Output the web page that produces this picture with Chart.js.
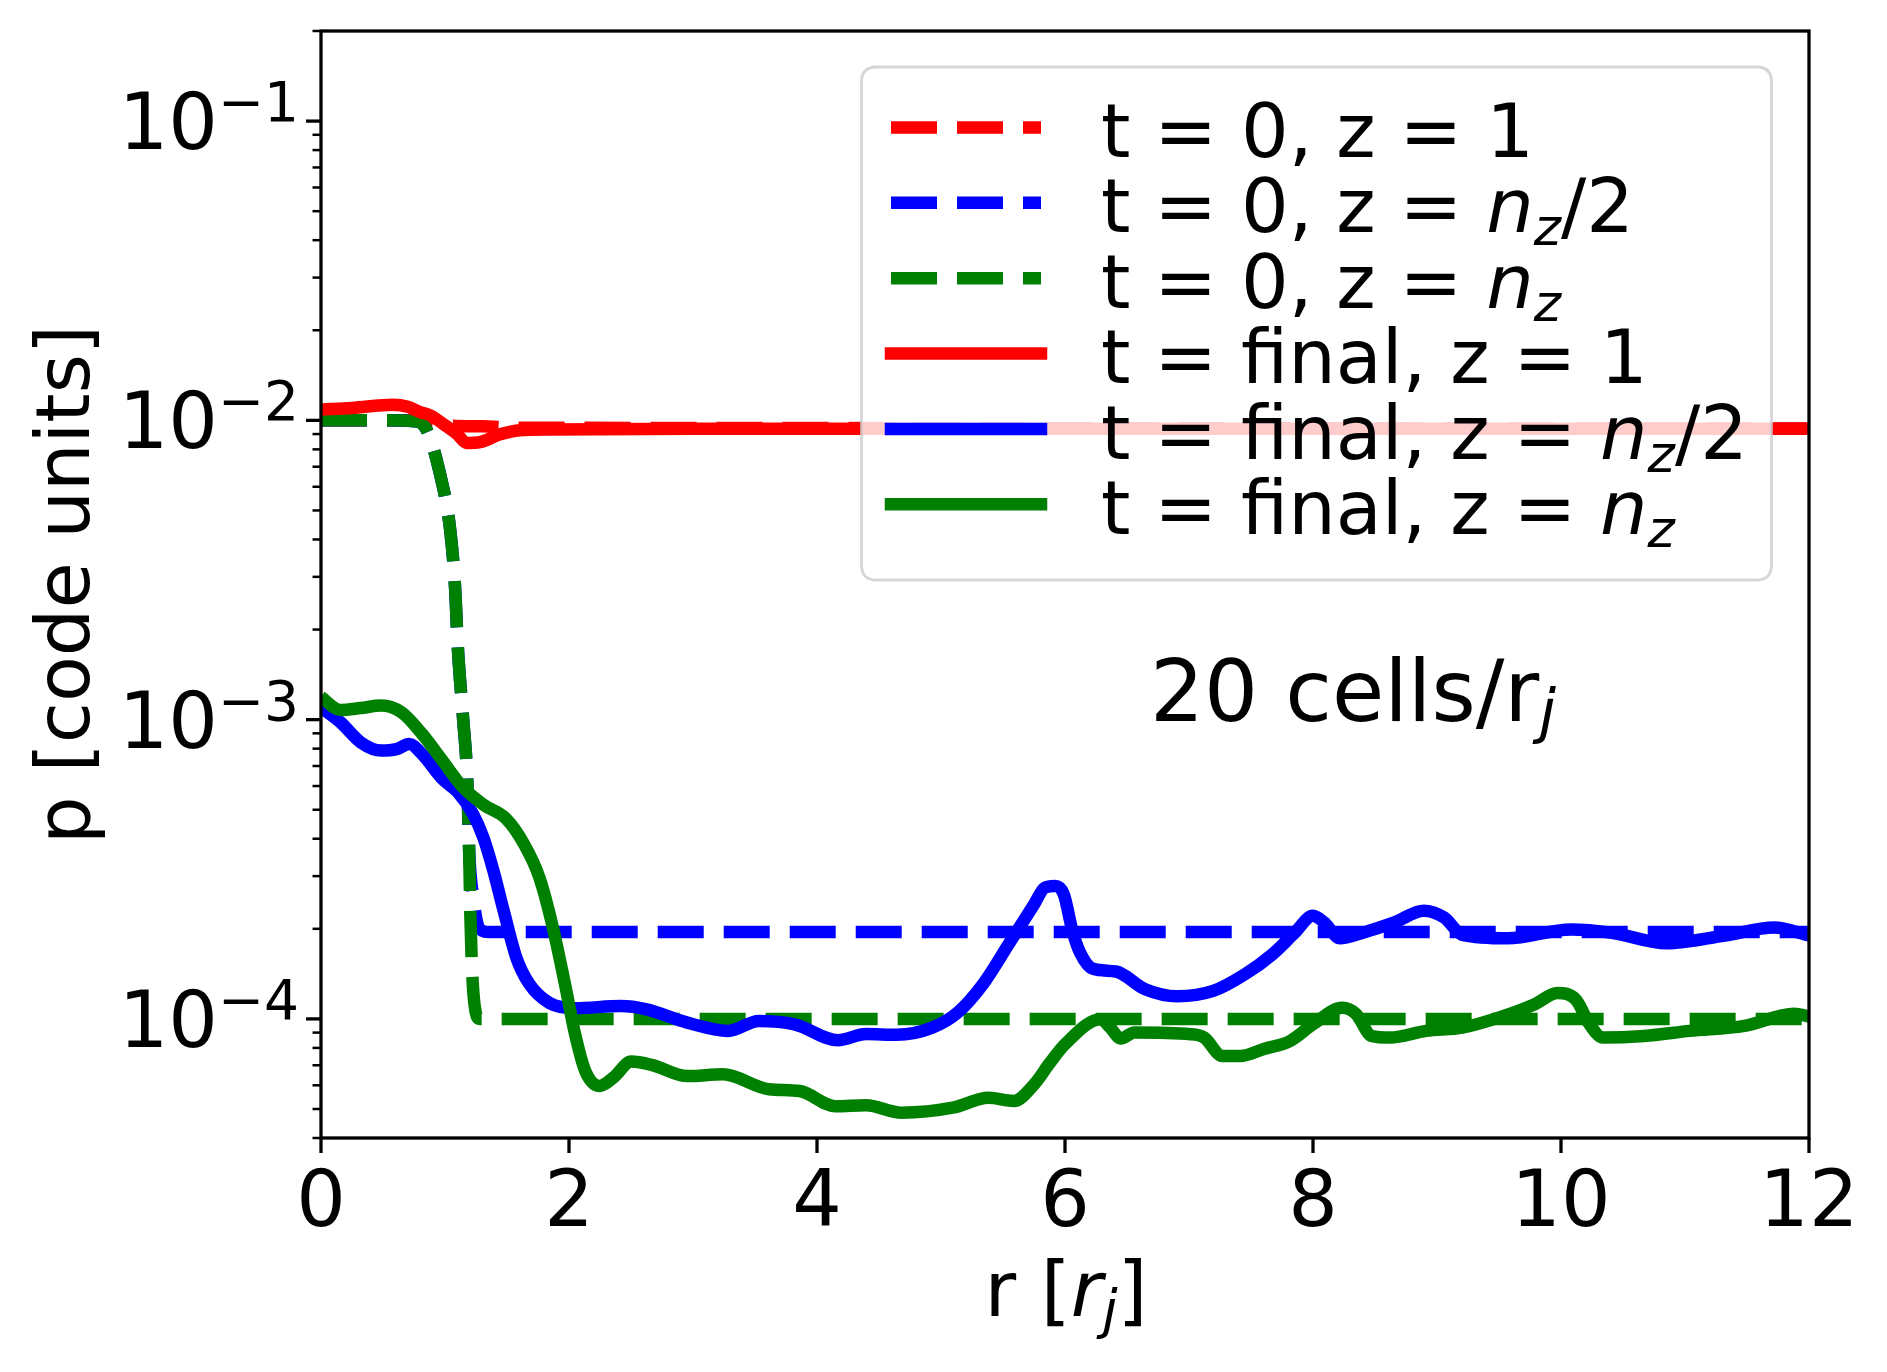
<!DOCTYPE html>
<html><head><meta charset="utf-8">
<script src="https://cdn.jsdelivr.net/npm/chart.js@4.4.1/dist/chart.umd.min.js"></script>
<style>html,body{margin:0;padding:0;background:#fff;overflow:hidden}#wrap{width:1887px;height:1372px}</style>
</head><body><div id="wrap"><canvas id="c" width="1887" height="1372"></canvas></div>
<script>
// ---------- data ----------
const xTickValues = [0, 2, 4, 6, 8, 10, 12];
const xTickLabels = ['0', '2', '4', '6', '8', '10', '12'];
const yMajorValues = [1e-4, 1e-3, 1e-2, 1e-1];
const yMajorExponents = ['\u22124', '\u22123', '\u22122', '\u22121'];
const yMinorValues = [4e-5,5e-5,6e-5,7e-5,8e-5,9e-5,2e-4,3e-4,4e-4,5e-4,6e-4,7e-4,8e-4,9e-4,
  2e-3,3e-3,4e-3,5e-3,6e-3,7e-3,8e-3,9e-3,2e-2,3e-2,4e-2,5e-2,6e-2,7e-2,8e-2,9e-2,2e-1];

const seriesLabels = ['t = 0, z = 1', 't = 0, z = n_z/2', 't = 0, z = n_z',
  't = final, z = 1', 't = final, z = n_z/2', 't = final, z = n_z'];

const r_t0_z1 = [0, 0.75, 0.9, 1.05, 1.3, 1.6, 12];
const p_t0_z1 = [1.0e-2, 1.0e-2, 9.85e-3, 9.6e-3, 9.55e-3, 9.45e-3, 9.4e-3];

const r_t0_half = [0, 0.5, 0.75, 0.85, 0.96, 1.04, 1.08, 1.105, 1.145, 1.18, 1.195, 1.23, 1.26, 1.30, 1.35, 12];
const p_t0_half = [1e-2, 1e-2, 9.93e-3, 9.33e-3, 6.61e-3, 4.37e-3, 2.82e-3, 1.70e-3, 1.02e-3, 6.17e-4, 3.63e-4, 2.51e-4, 2.09e-4, 1.97e-4, 1.95e-4, 1.95e-4];

const r_t0_nz = [0, 0.5, 0.75, 0.85, 0.96, 1.04, 1.08, 1.105, 1.145, 1.18, 1.195, 1.205, 1.22, 1.24, 1.28, 1.33, 12];
const p_t0_nz = [1e-2, 1e-2, 9.93e-3, 9.33e-3, 6.61e-3, 4.37e-3, 2.82e-3, 1.70e-3, 1.02e-3, 6.17e-4, 3.63e-4, 2.19e-4, 1.41e-4, 1.10e-4, 1.0e-4, 1.0e-4, 1.0e-4];

const r_fin_z1 = [0, 0.25, 0.58, 0.7, 0.8, 0.879, 1.013, 1.094, 1.175, 1.282, 1.444, 1.605, 1.87, 3, 12];
const p_fin_z1 = [1.086e-2, 1.10e-2, 1.127e-2, 1.11e-2, 1.066e-2, 1.04e-2, 9.55e-3, 9.03e-3, 8.4e-3, 8.46e-3, 8.98e-3, 9.27e-3, 9.33e-3, 9.37e-3, 9.37e-3];

const r_fin_half = [0, 0.157, 0.32, 0.486, 0.609, 0.712, 0.815, 0.979, 1.103, 1.226, 1.309, 1.391, 1.473, 1.576, 1.679, 1.843, 2.048, 2.419, 2.625, 2.954, 3.284, 3.531, 3.819, 4.169, 4.394, 4.641, 4.929, 5.135, 5.341, 5.547, 5.752, 5.835, 5.917, 5.99, 6.06, 6.12, 6.226, 6.41, 6.647, 6.903, 7.195, 7.451, 7.67, 7.853, 7.999, 8.09, 8.218, 8.401, 8.656, 8.894, 9.058, 9.204, 9.569, 10.08, 10.41, 10.85, 11.32, 11.72, 12];
const p_fin_half = [1.10e-3, 9.8e-4, 8.4e-4, 7.88e-4, 7.97e-4, 8.29e-4, 7.67e-4, 6.34e-4, 5.72e-4, 4.84e-4, 4.04e-4, 3.12e-4, 2.30e-4, 1.60e-4, 1.31e-4, 1.13e-4, 1.086e-4, 1.104e-4, 1.076e-4, 9.72e-5, 9.12e-5, 9.84e-5, 9.59e-5, 8.49e-5, 8.9e-5, 8.85e-5, 9.35e-5, 1.05e-4, 1.31e-4, 1.78e-4, 2.42e-4, 2.74e-4, 2.78e-4, 2.61e-4, 1.97e-4, 1.67e-4, 1.47e-4, 1.44e-4, 1.256e-4, 1.19e-4, 1.24e-4, 1.41e-4, 1.64e-4, 1.94e-4, 2.21e-4, 2.10e-4, 1.86e-4, 1.94e-4, 2.10e-4, 2.30e-4, 2.18e-4, 1.91e-4, 1.86e-4, 1.99e-4, 1.94e-4, 1.79e-4, 1.90e-4, 2.02e-4, 1.90e-4];

const r_fin_nz = [0, 0.157, 0.32, 0.486, 0.65, 0.815, 0.979, 1.144, 1.309, 1.494, 1.637, 1.761, 1.864, 1.967, 2.049, 2.131, 2.247, 2.358, 2.502, 2.666, 2.954, 3.242, 3.613, 3.86, 4.148, 4.394, 4.682, 5.094, 5.382, 5.588, 5.752, 5.875, 5.999, 6.287, 6.36, 6.45, 6.56, 7.013, 7.123, 7.268, 7.415, 7.597, 7.816, 7.999, 8.236, 8.346, 8.473, 8.62, 8.912, 9.204, 9.497, 9.789, 9.971, 10.12, 10.23, 10.34, 10.67, 11.04, 11.48, 11.88, 12];
const p_fin_nz = [1.19e-3, 1.077e-3, 1.093e-3, 1.114e-3, 1.057e-3, 8.96e-4, 7.3e-4, 5.94e-4, 5.2e-4, 4.66e-4, 3.84e-4, 2.97e-4, 2.07e-4, 1.31e-4, 8.89e-5, 6.7e-5, 5.97e-5, 6.37e-5, 7.2e-5, 7.02e-5, 6.44e-5, 6.53e-5, 5.82e-5, 5.74e-5, 5.11e-5, 5.15e-5, 4.86e-5, 5.05e-5, 5.45e-5, 5.32e-5, 6.05e-5, 7.1e-5, 8.22e-5, 9.97e-5, 9.4e-5, 8.6e-5, 9.0e-5, 8.89e-5, 8.66e-5, 7.52e-5, 7.52e-5, 7.92e-5, 8.44e-5, 9.59e-5, 1.09e-4, 1.04e-4, 8.77e-5, 8.66e-5, 9.12e-5, 9.35e-5, 1.01e-4, 1.12e-4, 1.22e-4, 1.16e-4, 9.6e-5, 8.66e-5, 8.77e-5, 9.12e-5, 9.48e-5, 1.04e-4, 1.02e-4];

const xTitle = 'r [r_j]';
const yTitle = 'p [code units]';

// ---------- styling ----------
const RED = '#ff0000', BLUE = '#0000ff', GREEN = '#008000';
const LW = 12.5, DASH = [46, 20];
const FONT = '"DejaVu Sans", "Liberation Sans", sans-serif';
function f(size, italic) { return (italic ? 'italic ' : '') + size + 'px ' + FONT; }
function pts(xs, ys) { return xs.map((x, i) => ({ x: x, y: ys[i] })); }

const seriesDefs = [
  { xs: r_t0_z1, ys: p_t0_z1, color: RED, dash: true },
  { xs: r_t0_half, ys: p_t0_half, color: BLUE, dash: true },
  { xs: r_t0_nz, ys: p_t0_nz, color: GREEN, dash: true },
  { xs: r_fin_z1, ys: p_fin_z1, color: RED, dash: false },
  { xs: r_fin_half, ys: p_fin_half, color: BLUE, dash: false },
  { xs: r_fin_nz, ys: p_fin_nz, color: GREEN, dash: false }
];

const datasets = seriesDefs.map((s, i) => ({
  label: seriesLabels[i],
  data: pts(s.xs, s.ys),
  borderColor: s.color,
  backgroundColor: s.color,
  borderWidth: LW,
  borderDash: s.dash ? DASH : [],
  borderCapStyle: 'butt',
  borderJoinStyle: 'round',
  pointRadius: 0,
  pointHoverRadius: 0,
  cubicInterpolationMode: 'monotone',
  fill: false,
  clip: 0,
  order: seriesDefs.length - i
}));

// mixed text runs (normal / italic / subscript)
function parseMath(str, size, subSize, subDy) {
  const runs = [];
  const re = /([a-z])_([a-z])/g;
  let last = 0, m;
  while ((m = re.exec(str)) !== null) {
    if (m.index > last) runs.push({ t: str.slice(last, m.index), font: f(size, false), dy: 0 });
    runs.push({ t: m[1], font: f(size, true), dy: 0 });
    runs.push({ t: m[2], font: f(subSize, true), dy: subDy });
    last = re.lastIndex;
  }
  if (last < str.length) runs.push({ t: str.slice(last), font: f(size, false), dy: 0 });
  return runs;
}
function runsWidth(ctx, runs) {
  let w = 0;
  for (const r of runs) { ctx.font = r.font; w += ctx.measureText(r.t).width; }
  return w;
}
function drawRuns(ctx, x, y, runs, align) {
  const w = runsWidth(ctx, runs);
  let cx = align === 'center' ? x - w / 2 : (align === 'right' ? x - w : x);
  ctx.textAlign = 'left';
  ctx.textBaseline = 'alphabetic';
  for (const r of runs) {
    ctx.font = r.font;
    ctx.fillText(r.t, cx, y + (r.dy || 0));
    cx += ctx.measureText(r.t).width;
  }
}
function roundRect(ctx, x, y, w, h, r) {
  ctx.beginPath();
  ctx.moveTo(x + r, y);
  ctx.lineTo(x + w - r, y); ctx.quadraticCurveTo(x + w, y, x + w, y + r);
  ctx.lineTo(x + w, y + h - r); ctx.quadraticCurveTo(x + w, y + h, x + w - r, y + h);
  ctx.lineTo(x + r, y + h); ctx.quadraticCurveTo(x, y + h, x, y + h - r);
  ctx.lineTo(x, y + r); ctx.quadraticCurveTo(x, y, x + r, y);
  ctx.closePath();
}

const decor = {
  id: 'decor',
  afterDraw(chart) {
    const ctx = chart.ctx;
    const xs = chart.scales.x, ys = chart.scales.y;
    const a = chart.chartArea;
    ctx.save();
    ctx.fillStyle = '#000';
    ctx.strokeStyle = '#000';
    // frame
    ctx.lineWidth = 3.3;
    ctx.strokeRect(a.left, a.top, a.right - a.left, a.bottom - a.top);
    // x ticks
    xTickValues.forEach((v, i) => {
      const px = xs.getPixelForValue(v);
      ctx.lineWidth = 3.3;
      ctx.beginPath(); ctx.moveTo(px, a.bottom); ctx.lineTo(px, a.bottom + 15); ctx.stroke();
      drawRuns(ctx, px, 1226, [{ t: xTickLabels[i], font: f(78), dy: 0 }], 'center');
    });
    // y minor ticks
    ctx.lineWidth = 2.5;
    yMinorValues.forEach(v => {
      const py = ys.getPixelForValue(v);
      ctx.beginPath(); ctx.moveTo(a.left, py); ctx.lineTo(a.left - 8.5, py); ctx.stroke();
    });
    // y major ticks + labels
    yMajorValues.forEach((v, i) => {
      const py = ys.getPixelForValue(v);
      ctx.lineWidth = 3.3;
      ctx.beginPath(); ctx.moveTo(a.left, py); ctx.lineTo(a.left - 15, py); ctx.stroke();
      drawRuns(ctx, 299, py + 28, [
        { t: '10', font: f(78), dy: 0 },
        { t: yMajorExponents[i], font: f(55), dy: -28 }
      ], 'right');
    });
    // axis titles
    drawRuns(ctx, (a.left + a.right) / 2 + 1, 1316, parseMath(xTitle, 77, 54, 12), 'center');
    ctx.save();
    ctx.translate(89, (a.top + a.bottom) / 2);
    ctx.rotate(-Math.PI / 2);
    drawRuns(ctx, 0, 0, parseMath(yTitle, 75, 52, 12), 'center');
    ctx.restore();
    // annotation
    drawRuns(ctx, 1150, 721, [
      { t: '20 cells/r', font: f(85), dy: 0 },
      { t: 'j', font: f(60, true), dy: 11 }
    ], 'left');
    // legend
    const L = { x: 861.5, y: 67, w: 910, h: 513 };
    roundRect(ctx, L.x, L.y, L.w, L.h, 15);
    ctx.fillStyle = 'rgba(255,255,255,0.8)';
    ctx.fill();
    ctx.lineWidth = 2.8;
    ctx.strokeStyle = 'rgba(204,204,204,0.8)';
    ctx.stroke();
    const rowY = [127.5, 202.7, 278.3, 353.6, 429, 504.3];
    seriesDefs.forEach((s, i) => {
      const y = rowY[i];
      ctx.strokeStyle = s.color;
      ctx.lineWidth = LW;
      ctx.setLineDash(s.dash ? DASH : []);
      ctx.lineCap = s.dash ? 'butt' : 'square';
      ctx.beginPath(); ctx.moveTo(891, y); ctx.lineTo(1041, y); ctx.stroke();
      ctx.setLineDash([]);
      ctx.lineCap = 'butt';
      ctx.fillStyle = '#000';
      drawRuns(ctx, 1101, y + 29.5, parseMath(seriesLabels[i], 75, 52, 13), 'left');
    });
    ctx.restore();
  }
};

new Chart(document.getElementById('c'), {
  type: 'line',
  data: { datasets: datasets },
  options: {
    responsive: false,
    devicePixelRatio: 1,
    animation: false,
    events: [],
    layout: { padding: { left: 0, right: 78, top: 31, bottom: 0 } },
    plugins: { legend: { display: false }, tooltip: { enabled: false }, title: { display: false } },
    scales: {
      x: {
        type: 'linear', min: 0, max: 12,
        ticks: { display: false }, grid: { display: false }, border: { display: false },
        afterFit: s => { s.height = 234; }
      },
      y: {
        type: 'logarithmic', min: 4e-5, max: 0.2,
        ticks: { display: false }, grid: { display: false }, border: { display: false },
        afterFit: s => { s.width = 321; }
      }
    }
  },
  plugins: [decor]
});
</script>
</body></html>
